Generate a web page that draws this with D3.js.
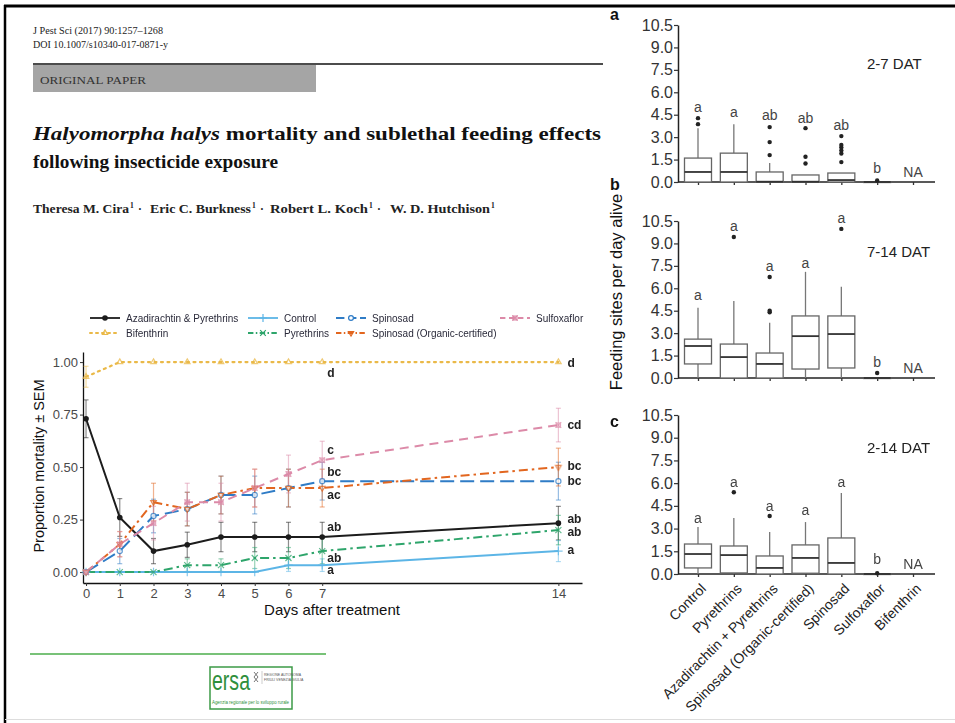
<!DOCTYPE html>
<html><head><meta charset="utf-8">
<script src="https://cdn.jsdelivr.net/npm/d3@7"></script>
<style>body{margin:0;background:#fff}svg{display:block}</style>
</head><body><svg id="c" width="955" height="723"></svg>
<script>
// ---------------- DATA: line chart ----------------
const days = [0,1,2,3,4,5,6,7,14];
const seriesNames = ["Azadirachtin & Pyrethrins","Bifenthrin","Control","Pyrethrins","Spinosad","Spinosad (Organic-certified)","Sulfoxaflor"];
const mortAza = [0.73,0.26,0.10,0.13,0.167,0.167,0.167,0.167,0.233];
const semAza  = [0.09,0.09,0.06,0.06,0.07,0.07,0.07,0.07,0.08];
const mortBif = [0.93,1,1,1,1,1,1,1,1];
const semBif  = [0.05,0,0,0,0,0,0,0,0];
const mortCon = [0,0,0,0,0,0,0.033,0.033,0.1];
const semCon  = [0,0,0,0,0,0,0.03,0.03,0.05];
const mortPyr = [0,0,0,0.033,0.033,0.067,0.067,0.1,0.2];
const semPyr  = [0,0,0,0.03,0.03,0.05,0.05,0.06,0.07];
const mortSpi = [0,0.10,0.267,0.30,0.367,0.367,0.40,0.433,0.433];
const semSpi  = [0,0.06,0.08,0.08,0.09,0.09,0.09,0.09,0.09];
const mortOrg = [0,0.133,0.333,0.30,0.367,0.40,0.40,0.40,0.50];
const semOrg  = [0,0.06,0.09,0.08,0.09,0.09,0.09,0.09,0.09];
const mortSul = [0,0.133,0.233,0.333,0.333,0.40,0.467,0.533,0.70];
const semSul  = [0,0.06,0.08,0.09,0.09,0.09,0.09,0.09,0.08];
const yTicksLine = [0,0.25,0.5,0.75,1];
const lettersDay7  = ["d","c","bc","ac","ab","ab","a"];
const lettersDay7Y = [0.95,0.58,0.476,0.37,0.214,0.07,0.01];
const lettersDay14  = ["d","cd","bc","bc","ab","ab","a"];
const lettersDay14Y = [0.995,0.70,0.505,0.433,0.256,0.19,0.105];

// ---------------- DATA: box plots ----------------
const cats = ["Control","Pyrethrins","Azadirachtin + Pyrethrins","Spinosad (Organic-certified)","Spinosad","Sulfoxaflor","Bifenthrin"];
const boxTicks = [0,1.5,3,4.5,6,7.5,9,10.5];
// panel a: 2-7 DAT
const q1A  = [0,0,0,0,0,0,null];
const medA = [0.67,0.67,0.02,0.02,0.13,0,null];
const q3A  = [1.6,1.93,0.67,0.47,0.6,0,null];
const loA  = [0,0,0,0,0,0,null];
const hiA  = [3.6,3.87,1.27,0.47,0.6,0,null];
const outA = [[3.87,4.27],[],[1.8,2.67,3.67],[1.24,1.69,3.6],[1.33,1.9,2.1,2.3,2.47,3.07],[0.1],[]];
const letA = ["a","a","ab","ab","ab","b","NA"];
const letYA = [4.67,4.33,4.13,3.97,3.47,0.6,0.33];
// panel b: 7-14 DAT
const q1B  = [0.94,0,0,0.6,0.67,0,null];
const medB = [2.14,1.4,0.94,2.8,2.94,0,null];
const q3B  = [2.6,2.27,1.67,4.15,4.15,0,null];
const loB  = [0,0,0,0,0,0,null];
const hiB  = [4.7,5.15,3.7,7.1,6.1,0,null];
const outB = [[],[9.43],[4.4,4.5,6.75],[],[9.97],[0.33],[]];
const letB = ["a","a","a","a","a","b","NA"];
const letYB = [5.2,9.8,7.15,7.36,10.37,0.74,0.33];
// panel c: 2-14 DAT
const q1C  = [0.4,0.07,0,0.05,0,0,null];
const medC = [1.32,1.25,0.4,1.06,0.73,0,null];
const q3C  = [1.98,1.85,1.19,1.92,2.38,0,null];
const loC  = [0,0,0,0,0,0,null];
const hiC  = [3.1,3.7,2.77,3.43,5.35,0,null];
const outC = [[],[5.4],[3.83],[],[],[0.05],[]];
const letC = ["a","a","a","a","a","b","NA"];
const letYC = [3.37,5.75,4.16,3.9,5.75,0.66,0.33];

// ---------------- DRAW ----------------
const svg = d3.select("#c");
svg.append("rect").attr("width",955).attr("height",723).attr("fill","#fff");

// frame
svg.append("line").attr("x1",4).attr("x2",955).attr("y1",6).attr("y2",6).attr("stroke","#000").attr("stroke-width",3);
svg.append("line").attr("x1",5).attr("x2",5).attr("y1",5).attr("y2",723).attr("stroke","#000").attr("stroke-width",2.5);
svg.append("line").attr("x1",5).attr("x2",955).attr("y1",719.5).attr("y2",719.5).attr("stroke","#ddd").attr("stroke-width",1);

// header
const serif = "'Liberation Serif','Times New Roman',serif";
svg.append("text").attr("x",33).attr("y",34).attr("font-family",serif).attr("font-size",9.5).attr("fill","#222")
  .attr("textLength",130).attr("lengthAdjust","spacingAndGlyphs").text("J Pest Sci (2017) 90:1257–1268");
svg.append("text").attr("x",33).attr("y",48).attr("font-family",serif).attr("font-size",9.5).attr("fill","#222")
  .attr("textLength",135).attr("lengthAdjust","spacingAndGlyphs").text("DOI 10.1007/s10340-017-0871-y");
svg.append("line").attr("x1",33).attr("x2",603).attr("y1",64).attr("y2",64).attr("stroke","#111").attr("stroke-width",1.5);
svg.append("rect").attr("x",33).attr("y",65).attr("width",283).attr("height",27).attr("fill","#a5a5a5");
svg.append("text").attr("x",40).attr("y",83.5).attr("font-family",serif).attr("font-size",10.5).attr("fill","#333")
  .attr("textLength",106).attr("lengthAdjust","spacingAndGlyphs").text("ORIGINAL PAPER");
const t1 = svg.append("text").attr("x",33).attr("y",140).attr("font-family",serif).attr("font-size",19.5)
  .attr("font-weight","bold").attr("fill","#111").attr("textLength",568).attr("lengthAdjust","spacingAndGlyphs");
t1.append("tspan").attr("font-style","italic").text("Halyomorpha halys");
t1.append("tspan").text(" mortality and sublethal feeding effects");
svg.append("text").attr("x",33).attr("y",168).attr("font-family",serif).attr("font-size",19.5)
  .attr("font-weight","bold").attr("fill","#111").attr("textLength",245).attr("lengthAdjust","spacingAndGlyphs")
  .text("following insecticide exposure");
// authors: each name + superscript placed as its own text
const authors = ["Theresa M. Cira","Eric C. Burkness","Robert L. Koch","W. D. Hutchison"];
const authorX = [33,150,270,390];
const authorW = [102,107,104,106];
authors.forEach((n,i)=>{
  svg.append("text").attr("x",authorX[i]).attr("y",213).attr("font-family",serif).attr("font-size",11.5)
    .attr("font-weight","bold").attr("fill","#222").attr("textLength",authorW[i]-6).attr("lengthAdjust","spacingAndGlyphs").text(n);
  svg.append("text").attr("x",authorX[i]+authorW[i]-5).attr("y",208).attr("font-family",serif).attr("font-size",7.5)
    .attr("font-weight","bold").attr("fill","#222").text("1");
  if(i<authors.length-1) svg.append("text").attr("x",authorX[i]+authorW[i]+3).attr("y",213).attr("font-family",serif)
    .attr("font-size",11.5).attr("font-weight","bold").attr("fill","#222").text("·");
});

// ---------------- line chart ----------------
const sans = "'Liberation Sans',Arial,Helvetica,sans-serif";
const x = d3.scaleLinear().domain([-0.09,14.7]).range([83,582]);
const y = d3.scaleLinear().domain([-0.052,1.048]).range([583,352]);
const lc = svg.append("g");

const yAx = lc.append("g").attr("transform","translate(83,0)")
  .call(d3.axisLeft(y).tickValues(yTicksLine).tickFormat(d3.format(".2f")).tickSize(3).tickSizeOuter(0));
const xAx = lc.append("g").attr("transform","translate(0,583)")
  .call(d3.axisBottom(x).tickValues(days).tickFormat(d3.format("d")).tickSize(3).tickSizeOuter(0));
[yAx,xAx].forEach(a=>{
  a.select(".domain").attr("stroke","#111").attr("stroke-width",1.3);
  a.selectAll(".tick line").attr("stroke","#333");
  a.selectAll(".tick text").attr("font-family",sans).attr("font-size",13).attr("fill","#4a4a4a");
});
yAx.selectAll(".tick text").attr("x",-5);
xAx.selectAll(".tick text").attr("y",6);

lc.append("text").attr("transform","translate(44,466) rotate(-90)").attr("text-anchor","middle")
  .attr("font-family",sans).attr("font-size",14.5).attr("fill","#111").text("Proportion mortality ± SEM");
lc.append("text").attr("x",332).attr("y",615).attr("text-anchor","middle")
  .attr("font-family",sans).attr("font-size",15).attr("fill","#111").text("Days after treatment");

const means = [mortAza,mortBif,mortCon,mortPyr,mortSpi,mortOrg,mortSul];
const sems  = [semAza,semBif,semCon,semPyr,semSpi,semOrg,semSul];
const colors = ["#1c1c1c","#eab948","#5cb5e6","#2ea56b","#2f7cc6","#e2661f","#dc8aa8"];
const dashes = [null,"2,4.5","","9,4,2.5,4","14,6","9,4,2.5,4","9,6"];
const shapes = ["dot","tri","plus","times","circle","tridown","squarex"];

function marker(g, shape, col, cx, cy, s){
  const st = {stroke:col,"stroke-width":1.2,fill:"none"};
  const add = (el)=>{ Object.entries(st).forEach(([k,v])=>el.attr(k,v)); return el; };
  if(shape==="dot") g.append("circle").attr("cx",cx).attr("cy",cy).attr("r",2.8).attr("fill",col);
  else if(shape==="circle") add(g.append("circle").attr("cx",cx).attr("cy",cy).attr("r",s*0.8)).attr("fill","#fff");
  else if(shape==="tri") add(g.append("path").attr("d",d3.symbol(d3.symbolTriangle2,s*s*2.2)()).attr("transform",`translate(${cx},${cy})`));
  else if(shape==="tridown") add(g.append("path").attr("d",d3.symbol(d3.symbolTriangle2,s*s*2.2)()).attr("transform",`translate(${cx},${cy}) rotate(180)`));
  else if(shape==="plus") add(g.append("path").attr("d",d3.symbol(d3.symbolPlus,s*s*2.5)()).attr("transform",`translate(${cx},${cy})`));
  else if(shape==="times") add(g.append("path").attr("d",d3.symbol(d3.symbolTimes,s*s*2.5)()).attr("transform",`translate(${cx},${cy})`));
  else if(shape==="squarex"){
    add(g.append("path").attr("d",d3.symbol(d3.symbolSquare2,s*s*2.2)()).attr("transform",`translate(${cx},${cy})`));
    add(g.append("path").attr("d",d3.symbol(d3.symbolTimes,s*s*2.2)()).attr("transform",`translate(${cx},${cy})`));
  }
}

// error bars
means.forEach((m,si)=>{
  const g = lc.append("g").attr("stroke",colors[si]).attr("stroke-opacity",0.5).attr("stroke-width",1.2);
  m.forEach((v,i)=>{
    const e = sems[si][i]; if(!e) return;
    const cx = x(days[i]);
    g.append("line").attr("x1",cx).attr("x2",cx).attr("y1",y(v-e)).attr("y2",y(v+e));
    g.append("line").attr("x1",cx-2.5).attr("x2",cx+2.5).attr("y1",y(v-e)).attr("y2",y(v-e));
    g.append("line").attr("x1",cx-2.5).attr("x2",cx+2.5).attr("y1",y(v+e)).attr("y2",y(v+e));
  });
});
// lines & points
const lineGen = d3.line().x((d,i)=>x(days[i])).y(d=>y(d));
const drawOrder = [2,3,0,4,5,6,1];
drawOrder.forEach(si=>{
  lc.append("path").datum(means[si]).attr("d",lineGen).attr("fill","none")
    .attr("stroke",colors[si]).attr("stroke-width",si===1?2.2:2)
    .attr("stroke-dasharray",dashes[si]).attr("stroke-linecap",si===1?"round":"butt");
});
drawOrder.forEach(si=>{
  const g = lc.append("g").attr("opacity",si===0?1:0.75);
  means[si].forEach((v,i)=>marker(g,shapes[si],colors[si],x(days[i]),y(v),3.2));
});
// letters
lettersDay7.forEach((t,i)=>lc.append("text").attr("x",x(7)+5).attr("y",y(lettersDay7Y[i])).attr("dy","0.35em")
  .attr("font-family",sans).attr("font-size",12).attr("font-weight","bold").attr("fill","#222").text(t));
lettersDay14.forEach((t,i)=>lc.append("text").attr("x",x(14)+9).attr("y",y(lettersDay14Y[i])).attr("dy","0.35em")
  .attr("font-family",sans).attr("font-size",12).attr("font-weight","bold").attr("fill","#222").text(t));

// legend
const legPos = [[90,318],[90,333],[248,318],[248,333],[336,318],[336,333],[500,318]];
seriesNames.forEach((n,si)=>{
  const [lx,ly] = legPos[si];
  const g = lc.append("g");
  g.append("line").attr("x1",lx).attr("x2",lx+30).attr("y1",ly).attr("y2",ly)
    .attr("stroke",colors[si]).attr("stroke-width",si===1?2:1.8)
    .attr("stroke-dasharray",si===1?"2,4":(dashes[si]?dashes[si].split(",").map(v=>v*0.6).join(","):null))
    .attr("stroke-linecap",si===1?"round":"butt");
  marker(g,shapes[si],colors[si],lx+15,ly,3);
  g.append("text").attr("x",lx+36).attr("y",ly).attr("dy","0.35em").attr("font-family",sans)
    .attr("font-size",10).attr("fill","#2a2a3a").text(n);
});

// ---------------- box plots ----------------
const xb = d3.scalePoint().domain(cats).range([698,913]);
const boxW = 27;
const panels = [
  {top:25,bot:182,q1:q1A,med:medA,q3:q3A,lo:loA,hi:hiA,out:outA,let:letA,letY:letYA,tag:"a",tagY:20,title:"2-7 DAT",titleY:69},
  {top:221,bot:378,q1:q1B,med:medB,q3:q3B,lo:loB,hi:hiB,out:outB,let:letB,letY:letYB,tag:"b",tagY:190,title:"7-14 DAT",titleY:257},
  {top:415,bot:574,q1:q1C,med:medC,q3:q3C,lo:loC,hi:hiC,out:outC,let:letC,letY:letYC,tag:"c",tagY:427,title:"2-14 DAT",titleY:453}
];
panels.forEach((p,pi)=>{
  const yb = d3.scaleLinear().domain([0,10.5]).range([p.bot,p.top]);
  const g = svg.append("g");
  const ya = g.append("g").attr("transform","translate(678,0)")
    .call(d3.axisLeft(yb).tickValues(boxTicks).tickFormat(d3.format(".1f")).tickSize(4).tickSizeOuter(0));
  ya.select(".domain").attr("stroke","#222").attr("stroke-width",1.5);
  ya.selectAll(".tick line").attr("stroke","#333").attr("stroke-width",1.2);
  ya.selectAll(".tick text").attr("font-family",sans).attr("font-size",16).attr("fill","#333").attr("x",-5);
  g.append("line").attr("x1",678).attr("x2",935).attr("y1",p.bot).attr("y2",p.bot).attr("stroke","#222").attr("stroke-width",1.6);
  const xa = g.append("g").attr("transform",`translate(0,${p.bot})`)
    .call(d3.axisBottom(xb).tickSize(3).tickSizeOuter(0).tickFormat(pi===2?(d=>d):(()=>"")));
  xa.select(".domain").remove();
  xa.selectAll(".tick line").attr("stroke","#333").attr("stroke-width",1.3);
  if(pi===2){
    xa.selectAll(".tick text").attr("font-family",sans).attr("font-size",14).attr("fill","#222")
      .attr("text-anchor","end").attr("transform","translate(5,12) rotate(-45)").attr("x",0).attr("y",0).attr("dy","0.35em");
  }
  cats.forEach((c,i)=>{
    const cx = xb(c);
    if(p.q1[i]!==null){
      g.append("line").attr("x1",cx).attr("x2",cx).attr("y1",yb(p.q3[i])).attr("y2",yb(p.hi[i])).attr("stroke","#777").attr("stroke-width",1.3);
      g.append("line").attr("x1",cx).attr("x2",cx).attr("y1",yb(p.q1[i])).attr("y2",yb(p.lo[i])).attr("stroke","#777").attr("stroke-width",1.3);
      g.append("rect").attr("x",cx-boxW/2).attr("y",yb(p.q3[i])).attr("width",boxW)
        .attr("height",Math.max(0.5,yb(p.q1[i])-yb(p.q3[i]))).attr("fill","#fff").attr("stroke","#666").attr("stroke-width",1.3);
      g.append("line").attr("x1",cx-boxW/2).attr("x2",cx+boxW/2).attr("y1",yb(p.med[i])).attr("y2",yb(p.med[i]))
        .attr("stroke","#333").attr("stroke-width",1.8);
    }
    p.out[i].forEach(o=>g.append("circle").attr("cx",cx).attr("cy",yb(o)).attr("r",2.2).attr("fill","#222"));
    g.append("text").attr("x",cx).attr("y",yb(p.letY[i])).attr("text-anchor","middle").attr("font-family",sans)
      .attr("font-size",14).attr("fill","#444").text(p.let[i]);
  });
  g.append("text").attr("x",610).attr("y",p.tagY).attr("font-family",sans).attr("font-size",16).attr("font-weight","bold")
    .attr("fill","#111").text(p.tag);
  g.append("text").attr("x",867).attr("y",p.titleY).attr("font-family",sans).attr("font-size",15)
    .attr("fill","#222").text(p.title);
});
svg.append("text").attr("transform","translate(622,292) rotate(-90)").attr("text-anchor","middle")
  .attr("font-family",sans).attr("font-size",16.5).attr("fill","#111").text("Feeding sites per day alive");

// ---------------- footer ----------------
svg.append("line").attr("x1",30).attr("x2",326).attr("y1",654).attr("y2",654).attr("stroke","#78c278").attr("stroke-width",2);
const lg = svg.append("g");
lg.append("rect").attr("x",210).attr("y",667).attr("width",82).attr("height",42).attr("fill","#fff").attr("stroke","#3d9a47").attr("stroke-width",1.5);
lg.append("text").attr("x",212).attr("y",690).attr("font-family",sans).attr("font-size",28).attr("fill","#2f8f3c")
  .attr("textLength",38).attr("lengthAdjust","spacingAndGlyphs").text("ersa");
lg.append("path").attr("d","M254,672 l4,5 l-4,5 M258,672 l-4,5 l4,5").attr("stroke","#555").attr("stroke-width",0.8).attr("fill","none");
lg.append("line").attr("x1",262).attr("x2",262).attr("y1",671).attr("y2",684).attr("stroke","#999").attr("stroke-width",0.5);
lg.append("text").attr("x",264).attr("y",676).attr("font-family",sans).attr("font-size",3.5).attr("fill","#555").text("REGIONE AUTONOMA");
lg.append("text").attr("x",264).attr("y",681).attr("font-family",sans).attr("font-size",3.5).attr("fill","#555").text("FRIULI VENEZIA GIULIA");
lg.append("text").attr("x",212).attr("y",704).attr("font-family",sans).attr("font-size",6).attr("fill","#2f8f3c")
  .attr("textLength",77).attr("lengthAdjust","spacingAndGlyphs").text("Agenzia regionale per lo sviluppo rurale");
</script></body></html>
